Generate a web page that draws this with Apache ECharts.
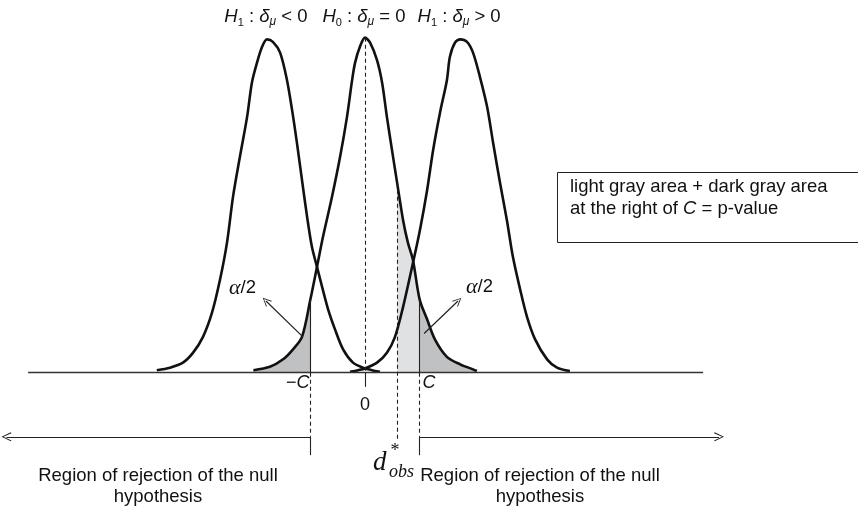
<!DOCTYPE html>
<html>
<head>
<meta charset="utf-8">
<script src="https://cdn.jsdelivr.net/npm/echarts@6/dist/echarts.min.js"></script>
<style>
  html, body { margin: 0; padding: 0; background: #fff; }
  #chart { width: 858px; height: 509px; }
</style>
</head>
<body>
<div id="chart"></div>
<script>
// Sampled density curves: [difference d, density]
const curveH1Neg = [
  [-6.94, 0.003], [-6.5, 0.006], [-6.07, 0.012], [-5.73, 0.024], [-5.4, 0.043],
  [-5.1, 0.072], [-4.83, 0.112], [-4.6, 0.156], [-4.4, 0.211], [-4.17, 0.259],
  [-3.93, 0.307], [-3.77, 0.348], [-3.6, 0.372], [-3.43, 0.391], [-3.27, 0.400],
  [-3.07, 0.397], [-2.83, 0.384], [-2.6, 0.351], [-2.43, 0.315], [-2.27, 0.276],
  [-2.1, 0.231], [-1.93, 0.187], [-1.77, 0.151], [-1.6, 0.127], [-1.43, 0.103],
  [-1.23, 0.076], [-1.0, 0.052], [-0.73, 0.028], [-0.4, 0.012], [-0.07, 0.006],
  [0.23, 0.003], [0.5, 0.001]
];
const curveH0 = [
  [-3.72, 0.003], [-3.17, 0.007], [-2.73, 0.016], [-2.4, 0.028], [-2.1, 0.043],
  [-1.82, 0.088], [-1.6, 0.127], [-1.4, 0.163], [-1.1, 0.211], [-0.83, 0.259],
  [-0.6, 0.307], [-0.43, 0.351], [-0.33, 0.372], [-0.17, 0.391], [0, 0.402],
  [0.17, 0.396], [0.4, 0.375], [0.57, 0.348], [0.73, 0.307], [0.9, 0.267],
  [1.07, 0.228], [1.27, 0.183], [1.43, 0.156], [1.6, 0.135], [1.82, 0.088],
  [2.07, 0.064], [2.33, 0.040], [2.73, 0.019], [3.17, 0.010], [3.6, 0.004],
  [3.73, 0.002]
];
const curveH1Pos = [
  [-0.5, 0.001], [-0.23, 0.003], [0, 0.005], [0.4, 0.012], [0.73, 0.024],
  [1.0, 0.043], [1.27, 0.079], [1.6, 0.132], [1.83, 0.171], [2.07, 0.219],
  [2.27, 0.267], [2.5, 0.312], [2.73, 0.351], [2.83, 0.379], [3.0, 0.396],
  [3.17, 0.400], [3.4, 0.397], [3.6, 0.384], [3.83, 0.355], [4.07, 0.319],
  [4.27, 0.276], [4.5, 0.228], [4.73, 0.183], [4.93, 0.139], [5.17, 0.100],
  [5.4, 0.067], [5.67, 0.040], [6.07, 0.016], [6.4, 0.006], [6.83, 0.002]
];

const critical = 1.82;      // C, two-sided critical value
const dObs = 1.07;          // observed statistic d*obs
const h0AtCritical = 0.088; // H0 density at ±C
const h0AtObs = 0.228;      // H0 density at d*obs
const h0Peak = 0.402;       // H0 density at 0
const hypothesisLabels = [
  { idx: '1', rel: '< 0' },
  { idx: '0', rel: '= 0' },
  { idx: '1', rel: '> 0' }
];
const regionLines = ['Region of rejection of the null', 'hypothesis'];
const boxLine1 = 'light gray area + dark gray area';

const SANS = '"Liberation Sans", Arial, sans-serif';
const SERIF = '"Liberation Serif", "Times New Roman", serif';
const INK = '#111';
const DARK_FILL = '#c0c1c3';
const LIGHT_FILL = '#e0e1e3';

// Shaded pieces under the H0 curve
const leftTail = curveH0.filter(p => p[0] <= -critical);
const obsBand = curveH0.filter(p => p[0] >= dObs && p[0] <= critical);
const rightTail = curveH0.filter(p => p[0] >= critical);

const chart = echarts.init(document.getElementById('chart'));

function area(data, color) {
  return {
    type: 'line', data, smooth: 0.3, symbol: 'none', silent: true,
    lineStyle: { width: 0 }, areaStyle: { color, opacity: 1, origin: 'auto' }, z: 1
  };
}
function curve(data, extra) {
  return Object.assign({
    type: 'line', data, smooth: 0.3, symbol: 'none', silent: true,
    lineStyle: { color: INK, width: 2.6 }, z: 3
  }, extra || {});
}

const chevron = 'path://M5,0 L10,9 L9.1,9.7 L5,1.9 L0.9,9.7 L0,9 Z';
const solid = { color: '#222', width: 1.1, type: 'solid' };
const dashed = { color: '#222', width: 1.1, type: [4, 3] };
const arrowY = -0.077, stubY = -0.099;

function seg(a, b, style, endSymbol, size) {
  return [
    { coord: a, lineStyle: style, symbol: 'none' },
    { coord: b, symbol: endSymbol || 'none', symbolSize: size || 0 }
  ];
}

const pointer = { color: '#222', width: 1.2, type: 'solid' };
const guides = [
  seg([-11.23, 0], [11.27, 0], { color: '#333', width: 1.3, type: 'solid' }),
  // H0 centre
  seg([0, h0Peak], [0, 0], dashed),
  seg([0, 0], [0, -0.017], solid),
  // critical values
  seg([-critical, h0AtCritical], [-critical, 0], solid),
  seg([critical, h0AtCritical], [critical, 0], solid),
  seg([-critical, 0], [-critical, arrowY], dashed),
  seg([critical, 0], [critical, arrowY], dashed),
  seg([-critical, arrowY], [-critical, stubY], solid),
  seg([critical, arrowY], [critical, stubY], solid),
  // observed statistic
  seg([dObs, h0AtObs], [dObs, -0.08], dashed),
  // rejection regions
  seg([-critical, arrowY], [-11.95, arrowY], pointer, chevron, [9, 10]),
  seg([critical, arrowY], [11.8, arrowY], pointer, chevron, [9, 10]),
  // alpha/2 pointers
  seg([-2.07, 0.043], [-3.3, 0.086], pointer, chevron, [8, 9]),
  seg([1.97, 0.047], [3.1, 0.086], pointer, chevron, [8, 9])
];

chart.setOption({
  animation: false,
  backgroundColor: '#fff',
  grid: { left: 5, right: 133, top: 6, bottom: 3 },
  xAxis: { type: 'value', min: -12, max: 12, show: false },
  yAxis: { type: 'value', min: -0.16, max: 0.44, show: false },
  series: [
    area(leftTail, DARK_FILL),
    area(obsBand, LIGHT_FILL),
    area(rightTail, DARK_FILL),
    curve(curveH1Neg),
    curve(curveH1Pos),
    curve(curveH0, {
      markLine: {
        silent: true, animation: false, symbol: 'none', precision: 4,
        label: { show: false }, emphasis: { disabled: true },
        data: guides
      }
    })
  ]
});

const px = (x, y) => chart.convertToPixel({ gridIndex: 0 }, [x, y]);
const peakOf = arr => arr.reduce((m, p) => (p[1] > m[1] ? p : m));

function tok(size, italic, family, extra) {
  return Object.assign({
    fontFamily: family || SANS, fontSize: size,
    fontStyle: italic ? 'italic' : 'normal', fill: INK
  }, extra || {});
}
function txt(x, y, style) {
  return { type: 'text', x, y, z: 10, style: Object.assign({ fill: INK, textAlign: 'left', textVerticalAlign: 'middle' }, style) };
}

const mathRich = {
  i: tok(18.5, true, SANS, { lineHeight: 22 }),
  n: tok(18.5, false, SANS, { lineHeight: 22 }),
  s: tok(11, false, SANS, { lineHeight: 15, verticalAlign: 'bottom' }),
  si: tok(12, true, SANS, { lineHeight: 15, verticalAlign: 'bottom' })
};

const texts = [curveH1Neg, curveH0, curveH1Pos].map((c, k) => {
  const h = hypothesisLabels[k];
  return txt(px(peakOf(c)[0], 0)[0] - 1, 17, {
    text: '{i|H}{s|' + h.idx + '}{n| : }{i|δ}{si|μ}{n| ' + h.rel + '}',
    rich: mathRich, textAlign: 'center'
  });
});

const alphaRich = { a: tok(22, true, SERIF), n: tok(18.5, false, SANS) };
texts.push(
  txt(229, 288, { text: '{a|α}{n|/2}', rich: alphaRich }),
  txt(466, 287, { text: '{a|α}{n|/2}', rich: alphaRich })
);

const pNegC = px(-critical, 0), pC = px(critical, 0), p0 = px(0, 0), pObs = px(dObs, 0);
const axisRich = { i: tok(18, true), n: tok(18, false) };
texts.push(
  txt(pNegC[0] - 1, pNegC[1] + 10, { text: '{n|−}{i|C}', rich: axisRich, textAlign: 'right' }),
  txt(pC[0] + 3, pC[1] + 10, { text: '{i|C}', rich: axisRich }),
  txt(p0[0], p0[1] + 32, { text: '0', font: '18px ' + SANS, textAlign: 'center' })
);

// d*obs label
texts.push(
  txt(pObs[0] - 24, 463, { text: 'd', font: 'italic 27px ' + SERIF }),
  txt(pObs[0] - 2, 451, { text: '*', font: '18px ' + SERIF, textAlign: 'center' }),
  txt(pObs[0] - 8, 472, { text: 'obs', font: 'italic 18px ' + SERIF })
);

// rejection region captions
[158, 540].forEach(cx => {
  texts.push(
    txt(cx, 476, { text: regionLines[0], font: '18.5px ' + SANS, textAlign: 'center' }),
    txt(cx, 497, { text: regionLines[1], font: '18.5px ' + SANS, textAlign: 'center' })
  );
});

// p-value note
texts.push(
  { type: 'rect', z: 9, shape: { x: 557.5, y: 172.5, width: 330, height: 70 },
    style: { fill: '#fff', stroke: '#222', lineWidth: 1 } },
  txt(570, 187, { text: boxLine1, font: '18.5px ' + SANS }),
  txt(570, 209, { text: '{n|at the right of }{i|C}{n| = p-value}',
    rich: { n: tok(18.5, false), i: tok(18.5, true) } })
);

chart.setOption({ graphic: { elements: texts } });
</script>
</body>
</html>
